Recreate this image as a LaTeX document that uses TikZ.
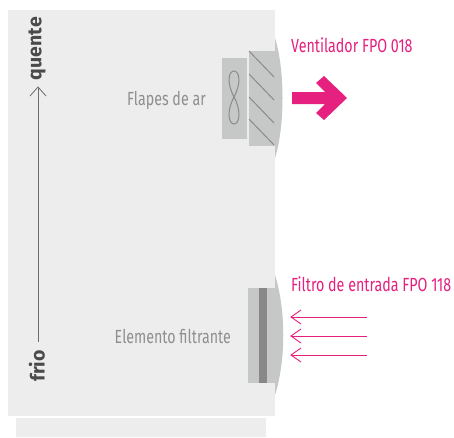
\documentclass[tikz,border=0pt]{standalone}
\usepackage{fontspec}
\setmainfont{Fira Sans}
\newfontfamily\condfont[FakeStretch=0.75]{Fira Sans}
\definecolor{panel}{HTML}{EDEDED}
\definecolor{part}{HTML}{C6C8C7}
\definecolor{dark}{HTML}{888888}
\definecolor{blade}{HTML}{8A8A8A}
\definecolor{pinkc}{HTML}{E5207F}
\definecolor{txtg}{HTML}{8F8F8F}
\definecolor{txtd}{HTML}{4A4A4A}
\tikzset{
  x=1pt,y=-1pt,
  pinklabel/.style={text=pinkc,font=\condfont\fontsize{19}{19}\selectfont,anchor=base west,inner sep=0pt},
  greylabel/.style={text=txtg,font=\condfont\fontsize{19}{19}\selectfont,anchor=base east,inner sep=0pt},
  scalelabel/.style={text=txtd,font=\bfseries\fontsize{19.5}{19.5}\selectfont,rotate=90,inner sep=0pt},
  flowarrow/.style={draw=pinkc,line width=0.9pt},
  openhead/.style={line cap=butt,line join=miter},
  bladeline/.style={draw=blade,line width=1pt},
}
\begin{document}
\begin{tikzpicture}
\useasboundingbox (0,0) rectangle (454,437);
\fill[white] (0,0) rectangle (454,437);
% lenses behind panel
\fill[part] (275,38) .. controls (285,70) and (285,126) .. (275,158) -- cycle;
\fill[part] (275,275) .. controls (286,310) and (286,360) .. (275,395) -- cycle;
% panels
\fill[panel] (8,10) rectangle (275,416);
\fill[panel] (16,418) rectangle (266,437);
% fan unit
\fill[part] (222,58) rectangle (247,139);
\fill[part] (249,51) rectangle (276,146);
\draw[blade,line width=1pt] (234,97) .. controls (226,82) and (229,71) .. (234,71) .. controls (239,71) and (242,82) .. (234,97)
  .. controls (226,112) and (229,124) .. (234,124) .. controls (239,124) and (242,112) .. (234,97) -- cycle;
\draw[bladeline] (249,51) -- (274,77);
\draw[bladeline] (249,74) -- (274,100);
\draw[bladeline] (249,97) -- (274,123);
\draw[bladeline] (249,119) -- (274,145);
% filter
\fill[part] (248,288) rectangle (276,383);
\fill[dark] (259,288) rectangle (267,383);
% outlet arrow
\fill[pinkc] (292,92) -- (325,92) -- (316,83) -- (324,76) -- (347,98) -- (324,120) -- (316,113) -- (325,104) -- (292,104) -- cycle;
% labels
\node[pinklabel] (ventilador) at (291,52) {Ventilador FPO 018};
\node[pinklabel] (filtro) at (291,291) {Filtro de entrada FPO 118};
\node[greylabel] (flapes) at (206,105) {Flapes de ar};
\node[greylabel] (elemento) at (231,343) {Elemento filtrante};
\node[scalelabel,anchor=east] (quente) at (37,17) {quente};
\node[scalelabel,anchor=west] (frio) at (37,382) {frio};
% temperature scale
\coordinate (scaleA) at (38,342);
\coordinate (scaleB) at (38,87);
\draw[draw=txtd!80,line width=0.9pt] (scaleA) -- (scaleB);
\draw[draw=txtd!80,line width=0.8pt,openhead] (30,96) -- (scaleB) -- (46,96);
% inlet arrows
\foreach \n/\y in {a/317,b/336,c/355}{
  \coordinate (in\n s) at (367,\y);
  \coordinate (in\n e) at (291,\y);
  \draw[flowarrow] (in\n s) -- (in\n e);
  \draw[flowarrow,openhead] (301,\y-7) -- (in\n e) -- (301,\y+7);
}
\end{tikzpicture}
\end{document}
